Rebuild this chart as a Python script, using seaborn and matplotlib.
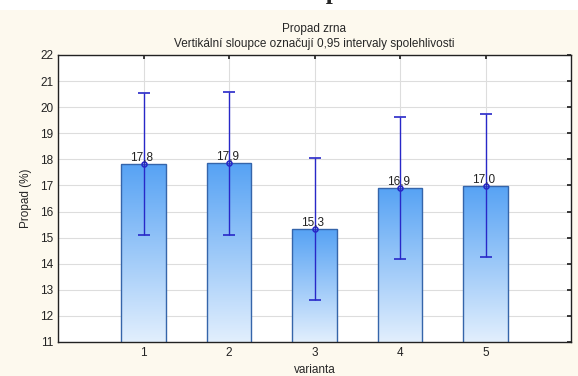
import numpy as np
import pandas as pd
import seaborn as sns
import matplotlib.pyplot as plt
from matplotlib.patches import Rectangle

varianta = ['1', '2', '3', '4', '5']
prumer = [17.83, 17.86, 15.32, 16.91, 16.98]
ci_dolni = [15.10, 15.12, 12.60, 14.20, 14.25]
ci_horni = [20.56, 20.60, 18.05, 19.62, 19.72]

df = pd.DataFrame({'varianta': varianta, 'propad': prumer})

sns.set_theme(style='whitegrid')
plt.rcParams['font.family'] = ['Liberation Sans', 'DejaVu Sans']

fig = plt.figure(figsize=(5.78, 3.76), dpi=100, facecolor='#fdf9ee')
ax = fig.add_axes([58 / 578, 1 - 342 / 376, 513 / 578, 287 / 376])
ax.set_facecolor('white')

# white strip with the cut-off page caption (cut off in the original too)
fig.patches.append(Rectangle((0, 1 - 10 / 376), 1, 10 / 376, transform=fig.transFigure,
                             facecolor='white', edgecolor='none', zorder=0))
fig.text(312 / 578, 1 + 1 / 376, 'Graf 1: Propad zrna', ha='center', va='baseline',
         fontsize=18, fontweight='bold', family='Liberation Serif')

sns.barplot(data=df, x='varianta', y='propad', width=0.52, color='#5aa5f5',
            edgecolor='#3565aa', linewidth=1, errorbar=None, ax=ax, zorder=2)

# gradient fill for bars
grad = np.linspace(0, 1, 256).reshape(-1, 1)
cmap = sns.blend_palette(['#e2effd', '#56a2f4'], as_cmap=True)
for bar in ax.patches:
    x0, y0 = bar.get_x(), 11
    w, h = bar.get_width(), bar.get_height()
    bar.set_facecolor('none')
    im = ax.imshow(grad, extent=[x0, x0 + w, y0, h], origin='lower', aspect='auto',
                   cmap=cmap, zorder=1.5)
    im.set_clip_path(bar)

pos = np.arange(len(varianta))
ax.errorbar(pos, prumer, yerr=[np.array(prumer) - np.array(ci_dolni),
                              np.array(ci_horni) - np.array(prumer)],
            fmt='o', color='#2828c8', ms=3.5, mfc='none', mew=1.2, elinewidth=1,
            capsize=4, capthick=1, zorder=4)

for p, m in zip(pos, prumer):
    ax.text(p - 0.02, m + 0.03, f'{m:.1f}'.replace('.', ','), ha='center', va='bottom',
            fontsize=8.5, color='#222222', zorder=5)

ax.set_xlim(-1, 5)
ax.set_ylim(11, 22)
ax.set_yticks(range(11, 23))
ax.grid(True, color='#dddddd', linewidth=0.8)
ax.set_axisbelow(True)
for s in ax.spines.values():
    s.set_color('#222222')
    s.set_linewidth(1)
ax.tick_params(axis='both', labelsize=8.5, colors='#222222', length=3, direction='in',
               top=True, right=True, bottom=True, left=False)
ax.set_xlabel('varianta', fontsize=8.5, labelpad=4)
ax.set_ylabel('Propad (%)', fontsize=8.5, labelpad=6)
ax.set_title('Propad zrna\nVertikální sloupce označují 0,95 intervaly spolehlivosti',
             fontsize=8.5, pad=6, linespacing=1.3)

fig.savefig('out.png', dpi=100, facecolor=fig.get_facecolor())
